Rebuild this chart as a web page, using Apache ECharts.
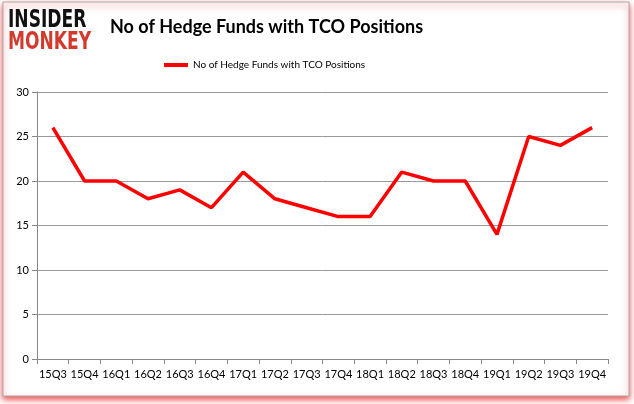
<!DOCTYPE html>
<html><head><meta charset="utf-8">
<script src="https://cdn.jsdelivr.net/npm/echarts@6/dist/echarts.min.js"></script>
<style>html,body{margin:0;padding:0;background:#fff}#c{width:634px;height:404px}</style>
</head><body><div id="c"></div>
<script>
const categories = ['15Q3','15Q4','16Q1','16Q2','16Q3','16Q4','17Q1','17Q2','17Q3','17Q4','18Q1','18Q2','18Q3','18Q4','19Q1','19Q2','19Q3','19Q4'];
const funds = [26,20,20,18,19,17,21,18,17,16,16,21,20,20,14,25,24,26];
const yTicks = [0,5,10,15,20,25,30];
const seriesName = 'No of Hedge Funds with TCO Positions';

const chart = echarts.init(document.getElementById('c'));
chart.setOption({
  animation: false,
  backgroundColor: '#fff',
  title: {
    text: 'No of Hedge Funds with TCO Positions',
    left: 105, top: 13,
    textStyle: {fontFamily: 'Lato', fontWeight: 'bold', fontSize: 18, color: '#000'}
  },
  legend: {
    data: [seriesName], top: 55, left: 159,
    itemWidth: 24, itemHeight: 4, itemGap: 4,
    icon: 'rect',
    textStyle: {fontFamily: 'Lato', fontSize: 10, color: '#000'}
  },
  graphic: [
    {type: 'rect', shape: {x: 3, y: 2, width: 626, height: 394}, z: -10,
     style: {fill: '#fff', stroke: '#aaa', lineWidth: 1, shadowColor: 'rgba(230,0,0,0.7)', shadowBlur: 6, shadowOffsetY: 3}},
    {type: 'text', x: 8, y: 8, scaleY: 1.3, style: {text: 'INSIDER', font: 'bold 19px "DejaVu Sans Condensed"', fill: '#111', textVerticalAlign: 'top'}},
    {type: 'text', x: 8, y: 30, scaleY: 1.3, style: {text: 'MONKEY', font: 'bold 19px "DejaVu Sans Condensed"', fill: '#d23b2c', textVerticalAlign: 'top'}}
  ],
  grid: {left: 37, right: 26, top: 92, bottom: 45},
  xAxis: {
    type: 'category', data: categories, boundaryGap: true,
    axisLine: {lineStyle: {color: '#888'}},
    axisTick: {show: true, alignWithLabel: false, lineStyle: {color: '#888'}},
    axisLabel: {fontFamily: 'Lato', fontSize: 11, color: '#000', interval: 0, margin: 10}
  },
  yAxis: {
    type: 'value', min: 0, max: 30, interval: 5,
    axisLine: {show: true, lineStyle: {color: '#888'}},
    axisTick: {show: true, lineStyle: {color: '#888'}},
    splitLine: {lineStyle: {color: '#999'}},
    axisLabel: {fontFamily: 'Lato', fontSize: 11, color: '#000', margin: 8,
      formatter: v => yTicks.includes(v) ? String(v) : ''}
  },
  series: [{
    name: seriesName, type: 'line', data: funds,
    symbol: 'none', lineStyle: {color: '#ff0000', width: 3.5}, itemStyle: {color: '#ff0000'}
  }]
});
</script></body></html>
